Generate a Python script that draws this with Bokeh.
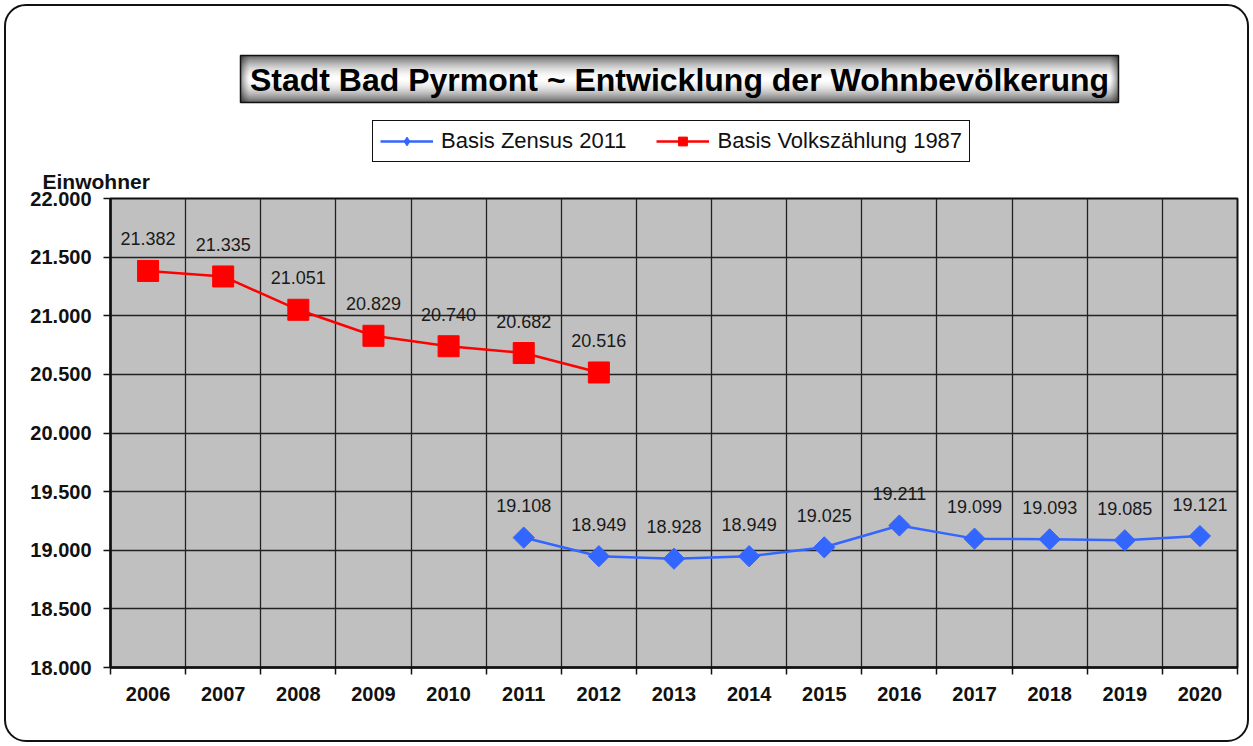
import math
from bokeh.plotting import figure
from bokeh.layouts import column
from bokeh.models import (ColumnDataSource, FixedTicker, LabelSet, Legend, LegendItem,
                          Range1d)
from bokeh.core.properties import value
from bokeh.embed import file_html
from bokeh.resources import INLINE

# ---------------- data ----------------
years = [2006, 2007, 2008, 2009, 2010, 2011, 2012, 2013, 2014, 2015,
         2016, 2017, 2018, 2019, 2020]
years_vz = [2006, 2007, 2008, 2009, 2010, 2011, 2012]
vz1987 = [21382, 21335, 21051, 20829, 20740, 20682, 20516]
years_zensus = [2011, 2012, 2013, 2014, 2015, 2016, 2017, 2018, 2019, 2020]
zensus2011 = [19108, 18949, 18928, 18949, 19025, 19211, 19099, 19093, 19085, 19121]
y_ticks = [18000, 18500, 19000, 19500, 20000, 20500, 21000, 21500, 22000]
y_tick_labels = ["18.000", "18.500", "19.000", "19.500", "20.000",
                 "20.500", "21.000", "21.500", "22.000"]
title_text = "Stadt Bad Pyrmont ~ Entwicklung der Wohnbevölkerung"
y_title = "Einwohner"
name_zensus = "Basis Zensus 2011"
name_vz = "Basis Volkszählung 1987"


def de(v):
    return f"{v:,}".replace(",", ".")


FONT = "Liberation Sans"
RED = "#FF0000"
BLUE = "#3366FF"
INK = "#111111"
W = 1253
BL, BR = 110, 16          # left / right borders shared by both figures

src_vz = ColumnDataSource(dict(x=years_vz, y=vz1987, t=[de(v) for v in vz1987]))
src_z = ColumnDataSource(dict(x=years_zensus, y=zensus2011, t=[de(v) for v in zensus2011]))

# ---------------- header strip: title box + legend ----------------
TOP_H = 162
top = figure(width=W, height=TOP_H, output_backend="svg", toolbar_location=None,
             x_range=Range1d(BL, W - BR), y_range=Range1d(TOP_H, 0),
             x_axis_type=None, y_axis_type=None,
             min_border_left=BL, min_border_right=BR, min_border_top=0,
             min_border_bottom=0)
top.title.visible = False
top.xgrid.visible = False
top.ygrid.visible = False
top.border_fill_alpha = 0
top.background_fill_alpha = 0
top.outline_line_color = None

bx0, bx1, by0, by1 = 240, 1118, 55, 102
n = by1 - by0
bots, tops_, cols = [], [], []
for i in range(n):
    f = abs((i + 0.5) / n - 0.5) * 2  # 0 centre, 1 edge
    g = int(255 - 205 * f ** 1.7)
    tops_.append(by0 + i)
    bots.append(by0 + i + 1)
    cols.append("#%02x%02x%02x" % (g, g, g))
top.quad(left=bx0, right=bx1, bottom=bots, top=tops_, fill_color=cols, line_color=None)
el, er, ea = [], [], []
for j in range(9):
    a = 0.5 * (1 - j / 9) ** 1.5
    el += [bx0 + j, bx1 - j - 1]
    er += [bx0 + j + 1, bx1 - j]
    ea += [a, a]
top.quad(left=el, right=er, bottom=by1, top=by0, fill_color="black", fill_alpha=ea,
         line_color=None)
top.quad(left=[bx0], right=[bx1], bottom=[by1], top=[by0], fill_alpha=0,
         line_color=INK, line_width=1.5)
top.text(x=[(bx0 + bx1) / 2], y=[(by0 + by1) / 2 + 1], text=[title_text],
         text_align="center", text_baseline="middle", text_font=value(FONT),
         text_font_style="bold", text_font_size="32px", text_color="black")

# legend keys: same series, styled for the key (their data lie outside this strip's ranges)
k_zl = top.line("x", "y", source=src_z, line_color=BLUE, line_width=2.5)
k_zm = top.scatter("x", "y", source=src_z, marker="diamond", size=15,
                   fill_color=BLUE, line_color=BLUE)
k_vl = top.line("x", "y", source=src_vz, line_color=RED, line_width=2.5)
k_vm = top.scatter("x", "y", source=src_vz, marker="square", size=21,
                   fill_color=RED, line_color=RED)
legend = Legend(items=[LegendItem(label=name_zensus, renderers=[k_zl, k_zm]),
                       LegendItem(label=name_vz, renderers=[k_vl, k_vm])],
                location=(262, 0), orientation="horizontal",
                glyph_width=53, glyph_height=22, label_standoff=8, spacing=30,
                padding=7, margin=0, border_line_color=INK, border_line_alpha=1.0,
                border_line_width=1.5, background_fill_color="white",
                background_fill_alpha=1.0, label_text_font=FONT,
                label_text_font_size="22px", label_text_color=INK)
top.add_layout(legend)

# ---------------- main figure ----------------
MAIN_H = 746 - TOP_H
MB_TOP = 198 - TOP_H
p = figure(width=W, height=MAIN_H, output_backend="svg", toolbar_location=None,
           x_range=(years[0] - 0.5, years[-1] + 0.5), y_range=(y_ticks[0], y_ticks[-1]),
           min_border_left=BL, min_border_right=BR, min_border_top=MB_TOP,
           min_border_bottom=MAIN_H - MB_TOP - 469)
p.background_fill_color = "#C0C0C0"
p.border_fill_alpha = 0
p.outline_line_color = INK
p.outline_line_width = 2

# y-axis heading as title, left aligned
p.title.text = y_title
p.title.align = "left"
p.title.vertical_align = "bottom"
p.title.offset = -68
p.title.standoff = 11
p.title.text_font = FONT
p.title.text_font_style = "bold"
p.title.text_font_size = "21px"
p.title.text_color = INK

# x axis: labels at category centres, ticks/grid at boundaries
xt = FixedTicker(ticks=years, minor_ticks=[y - 0.5 for y in years] + [years[-1] + 0.5])
p.xaxis.ticker = xt
p.xgrid.ticker = xt
p.xaxis.major_tick_out = 0
p.xaxis.major_tick_in = 0
p.xaxis.minor_tick_out = 7
p.xaxis.minor_tick_in = 0
p.xaxis.minor_tick_line_color = INK
p.xaxis.minor_tick_line_width = 1.5
p.xaxis.axis_line_width = 2.5
p.xaxis.axis_line_color = INK
p.xaxis.major_label_text_font = FONT
p.xaxis.major_label_text_font_style = "bold"
p.xaxis.major_label_text_font_size = "20px"
p.xaxis.major_label_text_color = INK
p.xaxis.major_label_standoff = 12
p.xgrid.grid_line_color = None
p.xgrid.minor_grid_line_color = "#222222"
p.xgrid.minor_grid_line_width = 1.3

yt = FixedTicker(ticks=y_ticks, minor_ticks=[])
p.yaxis.ticker = yt
p.ygrid.ticker = yt
p.yaxis.major_label_overrides = {t: l for t, l in zip(y_ticks, y_tick_labels)}
p.yaxis.major_tick_out = 7
p.yaxis.major_tick_in = 0
p.yaxis.major_tick_line_width = 1.5
p.yaxis.major_tick_line_color = INK
p.yaxis.minor_tick_out = 0
p.yaxis.minor_tick_in = 0
p.yaxis.axis_line_width = 2.5
p.yaxis.axis_line_color = INK
p.yaxis.major_label_text_font = FONT
p.yaxis.major_label_text_font_style = "bold"
p.yaxis.major_label_text_font_size = "20px"
p.yaxis.major_label_text_color = INK
p.yaxis.major_label_standoff = 12
p.ygrid.grid_line_color = "#222222"
p.ygrid.grid_line_width = 1.3

# ---------------- series ----------------
l_vz = p.line("x", "y", source=src_vz, line_color=RED, line_width=2.5)
m_vz = p.scatter("x", "y", source=src_vz, marker="square", size=21,
                 fill_color=RED, line_color=RED)
l_z = p.line("x", "y", source=src_z, line_color=BLUE, line_width=2.5)
m_z = p.scatter("x", "y", source=src_z, marker="square", angle=math.pi / 4, size=15,
                fill_color=BLUE, line_color=BLUE)

for src in (src_vz, src_z):
    p.add_layout(LabelSet(x="x", y="y", text="t", source=src, y_offset=32,
                          text_align="center", text_baseline="middle",
                          text_font=value(FONT), text_font_size="18px",
                          text_color="#1a1a1a"))

layout = column(top, p, spacing=0,
                styles={"outline": "2.5px solid #111", "outline-offset": "-6px",
                        "border-radius": "26px"})

open("out.html", "w").write(file_html(layout, INLINE))
